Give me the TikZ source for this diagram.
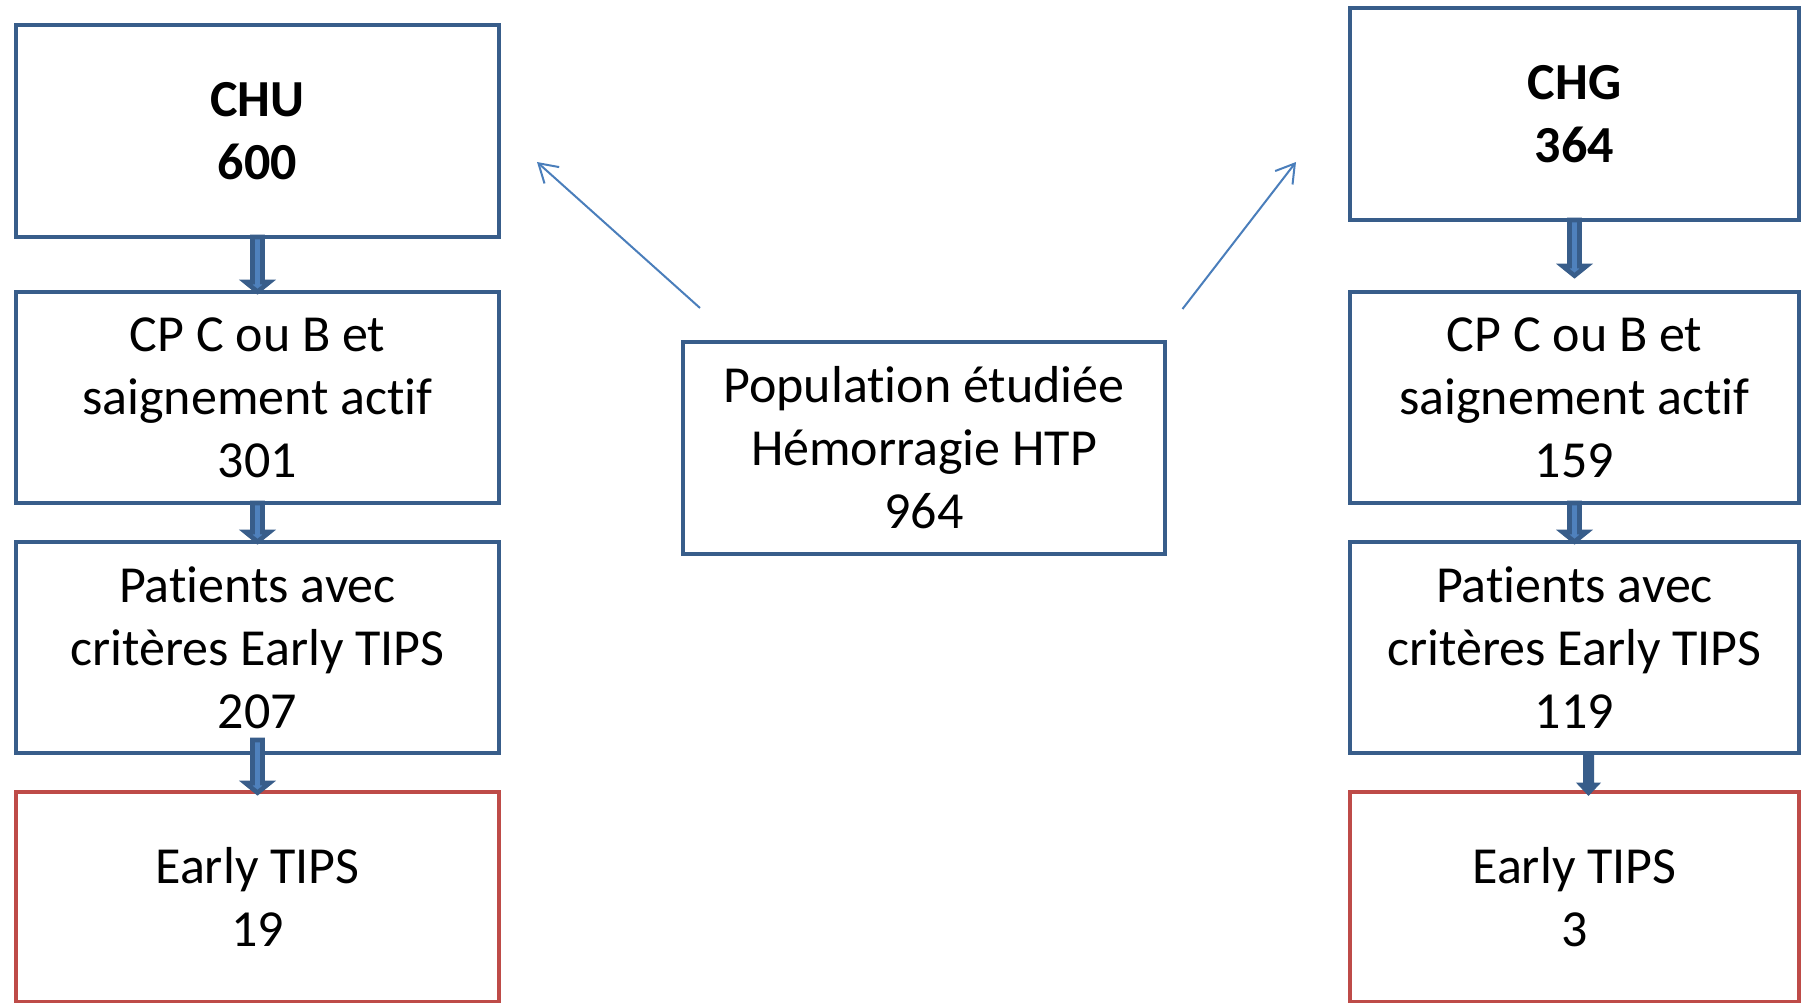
\documentclass[tikz,border=0pt]{standalone}
\usepackage{fontspec}
\setmainfont{Carlito}[Ligatures={NoCommon,NoRare}]
\usetikzlibrary{arrows.meta,calc}
\definecolor{boxblue}{HTML}{385D8A}
\definecolor{boxred}{HTML}{BE4B48}
\definecolor{arrfill}{HTML}{4F81BD}
\definecolor{thinblue}{HTML}{4A7EBB}
\newcommand\tisep{t\kern0pt i}
\tikzset{
  flowbox/.style={draw=boxblue, line width=4.5pt, rectangle, inner sep=0pt, outer sep=0pt,
    align=center, font=\fontsize{52}{63}\selectfont, text=black},
  redbox/.style={flowbox, draw=boxred},
  leftcol/.style={minimum width=483pt},
  rightcol/.style={minimum width=449pt},
  boldtext/.style={font=\fontsize{52}{63}\selectfont\bfseries},
  blockarrow/.style={fill=arrfill, draw=boxblue, line width=4.6pt, line join=miter},
  solidarrow/.style={fill=boxblue, draw=boxblue, line width=1pt, line join=miter},
  thinarrow/.style={draw=thinblue, line width=2pt, -{Straight Barb[length=18pt,width=22pt]}},
}
% #1 style, #2 start, #3 tip, #4 shaft half-width, #5 head half-width, #6 tip inset
\newcommand\blockarr[6][blockarrow]{%
  \path[#1] let \p1=(#2), \p2=(#3) in
    (\x1-#4pt,\y1) -- (\x1-#4pt,\y2+13pt) -- (\x1-#5pt,\y2+13pt) -- (\x1,\y2+#6pt)
    -- (\x1+#5pt,\y2+13pt) -- (\x1+#4pt,\y2+13pt) -- (\x1+#4pt,\y1) -- cycle;}
\begin{document}
\begin{tikzpicture}[x=1pt,y=-1pt]
\useasboundingbox (0,0) rectangle (1802,1003);
% left column
\node[flowbox, leftcol, boldtext, minimum height=212pt] (chu) at (257.5,131) {CHU\\600};
\node[flowbox, leftcol, minimum height=211pt] (cpl) at (257.5,397.5) {CP C ou B et\\saignement ac\tisep f\\301};
\node[flowbox, leftcol, minimum height=211pt] (patl) at (257.5,647.5) {Pa\tisep ents avec\\critères Early TIPS\\207};
\node[redbox, leftcol, minimum height=210.5pt] (redl) at (257.5,897.25) {Early TIPS\\19};
% right column
\node[flowbox, rightcol, boldtext, minimum height=212pt] (chg) at (1574.5,114) {CHG\\364};
\node[flowbox, rightcol, minimum height=211pt] (cpr) at (1574.5,397.5) {CP C ou B et\\saignement ac\tisep f\\159};
\node[flowbox, rightcol, minimum height=211pt] (patr) at (1574.5,647.5) {Pa\tisep ents avec\\critères Early TIPS\\119};
\node[redbox, rightcol, minimum height=210.5pt] (redr) at (1574.5,897.25) {Early TIPS\\3};
% centre
\node[flowbox, minimum width=482pt, minimum height=212pt] (pop) at (924,448) {Popula\tisep on étudiée\\Hémorragie HTP\\964};
% block arrows
\blockarr{chu.south}{$(cpl.north)+(0,3)$}{5}{12}{3.3}
\blockarr{cpl.south}{$(patl.north)+(0,3)$}{5}{12}{3.3}
\blockarr{$(patl.south)+(0,-13)$}{$(redl.north)+(0,4)$}{5}{12}{3.3}
\blockarr{chg.south}{$(cpr.north)+(0,-13)$}{5}{12}{3.3}
\blockarr{cpr.south}{$(patr.north)+(0,3)$}{5}{12}{3.3}
\blockarr[solidarrow]{$(patr.south)+(14,2)$}{$(redr.north)+(14,4)$}{5}{11.5}{0.8}
% thin arrows
\coordinate (la0) at (700,308);
\coordinate (la1) at (537,162);
\coordinate (ra0) at (1182.5,309);
\coordinate (ra1) at (1296,162);
\draw[thinarrow] (la0) -- (la1);
\draw[thinarrow] (ra0) -- (ra1);
\end{tikzpicture}
\end{document}
